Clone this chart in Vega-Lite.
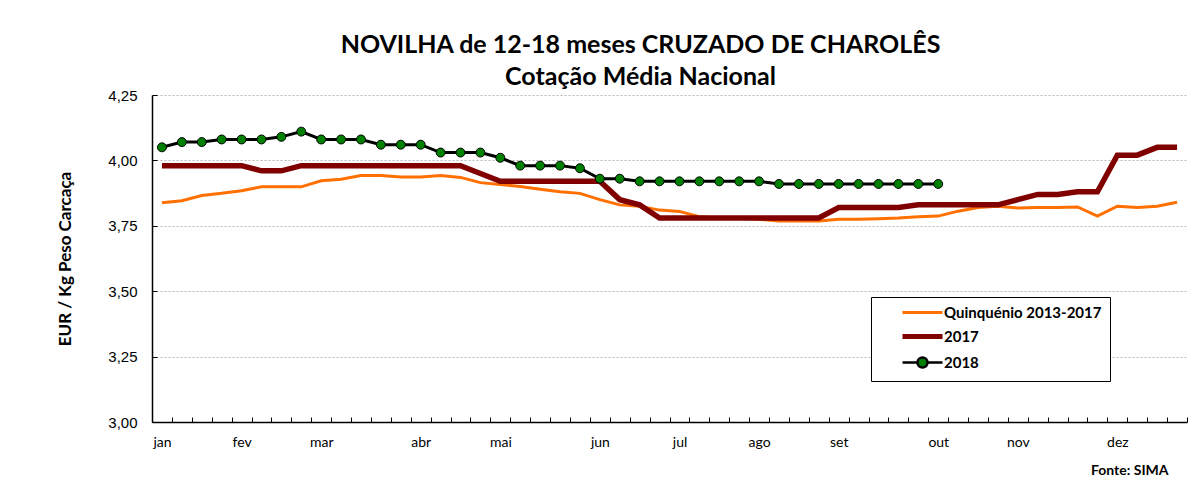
{
  "$schema": "https://vega.github.io/schema/vega-lite/v6.json",
  "width": 1035,
  "height": 327,
  "autosize": {"type": "none"},
  "padding": {"left": 152, "top": 95, "right": 7, "bottom": 60},
  "background": "white",
  "title": {
    "text": ["NOVILHA de 12-18 meses CRUZADO DE CHAROLÊS", "Cotação Média Nacional"],
    "font": "Lato", "fontSize": 25, "fontWeight": "bold", "color": "black",
    "anchor": "middle", "frame": "group", "dx": -29, "dy": 31, "offset": 4, "lineHeight": 32, "baseline": "bottom"
  },
  "data": {"values": [
    {"week":1,"series":"Quinquénio 2013-2017","value":3.838},
    {"week":2,"series":"Quinquénio 2013-2017","value":3.846},
    {"week":3,"series":"Quinquénio 2013-2017","value":3.866},
    {"week":4,"series":"Quinquénio 2013-2017","value":3.874},
    {"week":5,"series":"Quinquénio 2013-2017","value":3.884},
    {"week":6,"series":"Quinquénio 2013-2017","value":3.899},
    {"week":7,"series":"Quinquénio 2013-2017","value":3.899},
    {"week":8,"series":"Quinquénio 2013-2017","value":3.899},
    {"week":9,"series":"Quinquénio 2013-2017","value":3.922},
    {"week":10,"series":"Quinquénio 2013-2017","value":3.928},
    {"week":11,"series":"Quinquénio 2013-2017","value":3.942},
    {"week":12,"series":"Quinquénio 2013-2017","value":3.942},
    {"week":13,"series":"Quinquénio 2013-2017","value":3.937},
    {"week":14,"series":"Quinquénio 2013-2017","value":3.937},
    {"week":15,"series":"Quinquénio 2013-2017","value":3.942},
    {"week":16,"series":"Quinquénio 2013-2017","value":3.935},
    {"week":17,"series":"Quinquénio 2013-2017","value":3.915},
    {"week":18,"series":"Quinquénio 2013-2017","value":3.908},
    {"week":19,"series":"Quinquénio 2013-2017","value":3.9},
    {"week":20,"series":"Quinquénio 2013-2017","value":3.89},
    {"week":21,"series":"Quinquénio 2013-2017","value":3.88},
    {"week":22,"series":"Quinquénio 2013-2017","value":3.874},
    {"week":23,"series":"Quinquénio 2013-2017","value":3.85},
    {"week":24,"series":"Quinquénio 2013-2017","value":3.83},
    {"week":25,"series":"Quinquénio 2013-2017","value":3.825},
    {"week":26,"series":"Quinquénio 2013-2017","value":3.81},
    {"week":27,"series":"Quinquénio 2013-2017","value":3.805},
    {"week":28,"series":"Quinquénio 2013-2017","value":3.785},
    {"week":29,"series":"Quinquénio 2013-2017","value":3.78},
    {"week":30,"series":"Quinquénio 2013-2017","value":3.78},
    {"week":31,"series":"Quinquénio 2013-2017","value":3.775},
    {"week":32,"series":"Quinquénio 2013-2017","value":3.768},
    {"week":33,"series":"Quinquénio 2013-2017","value":3.768},
    {"week":34,"series":"Quinquénio 2013-2017","value":3.768},
    {"week":35,"series":"Quinquénio 2013-2017","value":3.775},
    {"week":36,"series":"Quinquénio 2013-2017","value":3.775},
    {"week":37,"series":"Quinquénio 2013-2017","value":3.777},
    {"week":38,"series":"Quinquénio 2013-2017","value":3.78},
    {"week":39,"series":"Quinquénio 2013-2017","value":3.785},
    {"week":40,"series":"Quinquénio 2013-2017","value":3.787},
    {"week":41,"series":"Quinquénio 2013-2017","value":3.806},
    {"week":42,"series":"Quinquénio 2013-2017","value":3.82},
    {"week":43,"series":"Quinquénio 2013-2017","value":3.825},
    {"week":44,"series":"Quinquénio 2013-2017","value":3.818},
    {"week":45,"series":"Quinquénio 2013-2017","value":3.82},
    {"week":46,"series":"Quinquénio 2013-2017","value":3.82},
    {"week":47,"series":"Quinquénio 2013-2017","value":3.822},
    {"week":48,"series":"Quinquénio 2013-2017","value":3.787},
    {"week":49,"series":"Quinquénio 2013-2017","value":3.825},
    {"week":50,"series":"Quinquénio 2013-2017","value":3.82},
    {"week":51,"series":"Quinquénio 2013-2017","value":3.825},
    {"week":52,"series":"Quinquénio 2013-2017","value":3.84},
    {"week":1,"series":"2017","value":3.98},
    {"week":2,"series":"2017","value":3.98},
    {"week":3,"series":"2017","value":3.98},
    {"week":4,"series":"2017","value":3.98},
    {"week":5,"series":"2017","value":3.98},
    {"week":6,"series":"2017","value":3.96},
    {"week":7,"series":"2017","value":3.96},
    {"week":8,"series":"2017","value":3.98},
    {"week":9,"series":"2017","value":3.98},
    {"week":10,"series":"2017","value":3.98},
    {"week":11,"series":"2017","value":3.98},
    {"week":12,"series":"2017","value":3.98},
    {"week":13,"series":"2017","value":3.98},
    {"week":14,"series":"2017","value":3.98},
    {"week":15,"series":"2017","value":3.98},
    {"week":16,"series":"2017","value":3.98},
    {"week":17,"series":"2017","value":3.95},
    {"week":18,"series":"2017","value":3.92},
    {"week":19,"series":"2017","value":3.92},
    {"week":20,"series":"2017","value":3.92},
    {"week":21,"series":"2017","value":3.92},
    {"week":22,"series":"2017","value":3.92},
    {"week":23,"series":"2017","value":3.92},
    {"week":24,"series":"2017","value":3.85},
    {"week":25,"series":"2017","value":3.83},
    {"week":26,"series":"2017","value":3.78},
    {"week":27,"series":"2017","value":3.78},
    {"week":28,"series":"2017","value":3.78},
    {"week":29,"series":"2017","value":3.78},
    {"week":30,"series":"2017","value":3.78},
    {"week":31,"series":"2017","value":3.78},
    {"week":32,"series":"2017","value":3.78},
    {"week":33,"series":"2017","value":3.78},
    {"week":34,"series":"2017","value":3.78},
    {"week":35,"series":"2017","value":3.82},
    {"week":36,"series":"2017","value":3.82},
    {"week":37,"series":"2017","value":3.82},
    {"week":38,"series":"2017","value":3.82},
    {"week":39,"series":"2017","value":3.83},
    {"week":40,"series":"2017","value":3.83},
    {"week":41,"series":"2017","value":3.83},
    {"week":42,"series":"2017","value":3.83},
    {"week":43,"series":"2017","value":3.83},
    {"week":44,"series":"2017","value":3.85},
    {"week":45,"series":"2017","value":3.87},
    {"week":46,"series":"2017","value":3.87},
    {"week":47,"series":"2017","value":3.88},
    {"week":48,"series":"2017","value":3.88},
    {"week":49,"series":"2017","value":4.02},
    {"week":50,"series":"2017","value":4.02},
    {"week":51,"series":"2017","value":4.05},
    {"week":52,"series":"2017","value":4.05},
    {"week":1,"series":"2018","value":4.05},
    {"week":2,"series":"2018","value":4.07},
    {"week":3,"series":"2018","value":4.07},
    {"week":4,"series":"2018","value":4.08},
    {"week":5,"series":"2018","value":4.08},
    {"week":6,"series":"2018","value":4.08},
    {"week":7,"series":"2018","value":4.09},
    {"week":8,"series":"2018","value":4.11},
    {"week":9,"series":"2018","value":4.08},
    {"week":10,"series":"2018","value":4.08},
    {"week":11,"series":"2018","value":4.08},
    {"week":12,"series":"2018","value":4.06},
    {"week":13,"series":"2018","value":4.06},
    {"week":14,"series":"2018","value":4.06},
    {"week":15,"series":"2018","value":4.03},
    {"week":16,"series":"2018","value":4.03},
    {"week":17,"series":"2018","value":4.03},
    {"week":18,"series":"2018","value":4.01},
    {"week":19,"series":"2018","value":3.98},
    {"week":20,"series":"2018","value":3.98},
    {"week":21,"series":"2018","value":3.98},
    {"week":22,"series":"2018","value":3.97},
    {"week":23,"series":"2018","value":3.93},
    {"week":24,"series":"2018","value":3.93},
    {"week":25,"series":"2018","value":3.92},
    {"week":26,"series":"2018","value":3.92},
    {"week":27,"series":"2018","value":3.92},
    {"week":28,"series":"2018","value":3.92},
    {"week":29,"series":"2018","value":3.92},
    {"week":30,"series":"2018","value":3.92},
    {"week":31,"series":"2018","value":3.92},
    {"week":32,"series":"2018","value":3.91},
    {"week":33,"series":"2018","value":3.91},
    {"week":34,"series":"2018","value":3.91},
    {"week":35,"series":"2018","value":3.91},
    {"week":36,"series":"2018","value":3.91},
    {"week":37,"series":"2018","value":3.91},
    {"week":38,"series":"2018","value":3.91},
    {"week":39,"series":"2018","value":3.91},
    {"week":40,"series":"2018","value":3.91}
  ]},
  "encoding": {
    "x": {
      "field": "week", "type": "quantitative",
      "scale": {"domain": [0.5, 52.5], "nice": false, "zero": false},
      "axis": {
        "values": [0.5,1.5,2.5,3.5,4.5,5.5,6.5,7.5,8.5,9.5,10.5,11.5,12.5,13.5,14.5,15.5,16.5,17.5,18.5,19.5,20.5,21.5,22.5,23.5,24.5,25.5,26.5,27.5,28.5,29.5,30.5,31.5,32.5,33.5,34.5,35.5,36.5,37.5,38.5,39.5,40.5,41.5,42.5,43.5,44.5,45.5,46.5,47.5,48.5,49.5,50.5,51.5,52.5],
        "labelExpr": "indexof([0.5,4.5,8.5,13.5,17.5,22.5,26.5,30.5,34.5,39.5,43.5,48.5], datum.value) >= 0 ? ['jan','fev','mar','abr','mai','jun','jul','ago','set','out','nov','dez'][indexof([0.5,4.5,8.5,13.5,17.5,22.5,26.5,30.5,34.5,39.5,43.5,48.5], datum.value)] : ''",
        "labelOffset": 10,
        "labelFont": "Lato", "labelFontSize": 14, "labelColor": "black",
        "labelOverlap": false, "labelFlush": false, "labelBound": false,
        "tickSize": -5, "tickColor": "black", "tickWidth": 1,
        "domainColor": "black", "domainWidth": 1.5,
        "grid": false, "labelPadding": 18,
        "title": "Fonte: SIMA", "titleFont": "Lato", "titleFontSize": 14, "titleFontWeight": "bold", "titleColor": "black",
        "titleX": 1016, "titleY": 52, "titleAlign": "right", "titleBaseline": "alphabetic"
      }
    },
    "y": {
      "field": "value", "type": "quantitative",
      "scale": {"domain": [3, 4.25], "nice": false, "zero": false},
      "axis": {
        "values": [3, 3.25, 3.5, 3.75, 4, 4.25],
        "labelExpr": "replace(format(datum.value, '.2f'), '.', ',')",
        "labelFont": "Liberation Sans", "labelFontSize": 15, "labelColor": "black",
        "tickSize": -5, "tickColor": "black", "tickWidth": 1,
        "domainColor": "black", "domainWidth": 1.5,
        "grid": true, "gridColor": "#b8b8b8", "gridDash": [2, 2], "gridWidth": 1,
        "labelPadding": 20,
        "title": "EUR / Kg Peso Carcaça", "titleFont": "Lato", "titleFontSize": 17, "titleFontWeight": "bold", "titleColor": "black",
        "titleX": -87, "titleY": 163.5, "titleBaseline": "middle", "titleAngle": -90, "titleAlign": "center"
      }
    }
  },
  "layer": [
    {
      "transform": [{"filter": "datum.series === 'Quinquénio 2013-2017'"}],
      "mark": {"type": "line", "strokeWidth": 3},
      "encoding": {
        "color": {
          "field": "series", "type": "nominal",
          "scale": {"domain": ["Quinquénio 2013-2017", "2017", "2018"], "range": ["#FF7000", "#800000", "#000000"]},
          "legend": {
            "title": null, "orient": "none", "legendX": 719, "legendY": 202,
            "strokeColor": "black", "fillColor": "white", "padding": 8,
            "labelFont": "Lato", "labelFontSize": 15, "labelFontWeight": "bold", "labelColor": "black", "labelLimit": 300,
            "symbolSize": 100, "symbolOffset": 36, "labelOffset": 14, "rowPadding": 5,
            "encode": {"symbols": {"update": {
              "shape": {"signal": "datum.value === '2018' ? 'M-4,0H-1M1,0H4M1,0A1,1 0 1,1 -1,0A1,1 0 1,1 1,0Z' : 'M-4,0H4'"},
              "strokeWidth": {"signal": "datum.value === '2017' ? 5 : (datum.value === '2018' ? 2.5 : 3)"},
              "fill": {"signal": "datum.value === '2018' ? '#008000' : 'transparent'"},
              "opacity": {"value": 1}
            }}}
          }
        }
      }
    },
    {
      "transform": [{"filter": "datum.series === '2017'"}],
      "mark": {"type": "line", "strokeWidth": 5.5},
      "encoding": {
        "color": {
          "field": "series", "type": "nominal",
          "scale": {"domain": ["Quinquénio 2013-2017", "2017", "2018"], "range": ["#FF7000", "#800000", "#000000"]},
          "legend": {
            "title": null, "orient": "none", "legendX": 719, "legendY": 202,
            "strokeColor": "black", "fillColor": "white", "padding": 8,
            "labelFont": "Lato", "labelFontSize": 15, "labelFontWeight": "bold", "labelColor": "black", "labelLimit": 300,
            "symbolSize": 100, "symbolOffset": 36, "labelOffset": 14, "rowPadding": 5,
            "encode": {"symbols": {"update": {
              "shape": {"signal": "datum.value === '2018' ? 'M-4,0H-1M1,0H4M1,0A1,1 0 1,1 -1,0A1,1 0 1,1 1,0Z' : 'M-4,0H4'"},
              "strokeWidth": {"signal": "datum.value === '2017' ? 5 : (datum.value === '2018' ? 2.5 : 3)"},
              "fill": {"signal": "datum.value === '2018' ? '#008000' : 'transparent'"},
              "opacity": {"value": 1}
            }}}
          }
        }
      }
    },
    {
      "transform": [{"filter": "datum.series === '2018'"}],
      "mark": {"type": "line", "strokeWidth": 3},
      "encoding": {
        "color": {
          "field": "series", "type": "nominal",
          "scale": {"domain": ["Quinquénio 2013-2017", "2017", "2018"], "range": ["#FF7000", "#800000", "#000000"]},
          "legend": {
            "title": null, "orient": "none", "legendX": 719, "legendY": 202,
            "strokeColor": "black", "fillColor": "white", "padding": 8,
            "labelFont": "Lato", "labelFontSize": 15, "labelFontWeight": "bold", "labelColor": "black", "labelLimit": 300,
            "symbolSize": 100, "symbolOffset": 36, "labelOffset": 14, "rowPadding": 5,
            "encode": {"symbols": {"update": {
              "shape": {"signal": "datum.value === '2018' ? 'M-4,0H-1M1,0H4M1,0A1,1 0 1,1 -1,0A1,1 0 1,1 1,0Z' : 'M-4,0H4'"},
              "strokeWidth": {"signal": "datum.value === '2017' ? 5 : (datum.value === '2018' ? 2.5 : 3)"},
              "fill": {"signal": "datum.value === '2018' ? '#008000' : 'transparent'"},
              "opacity": {"value": 1}
            }}}
          }
        }
      }
    },
    {
      "transform": [{"filter": "datum.series === '2018'"}],
      "mark": {"type": "point", "filled": true, "size": 80, "fill": "#008000", "stroke": "black", "strokeWidth": 1, "opacity": 1}
    }
  ],
  "config": {
    "view": {"stroke": null},
    "font": "Lato"
  }
}
